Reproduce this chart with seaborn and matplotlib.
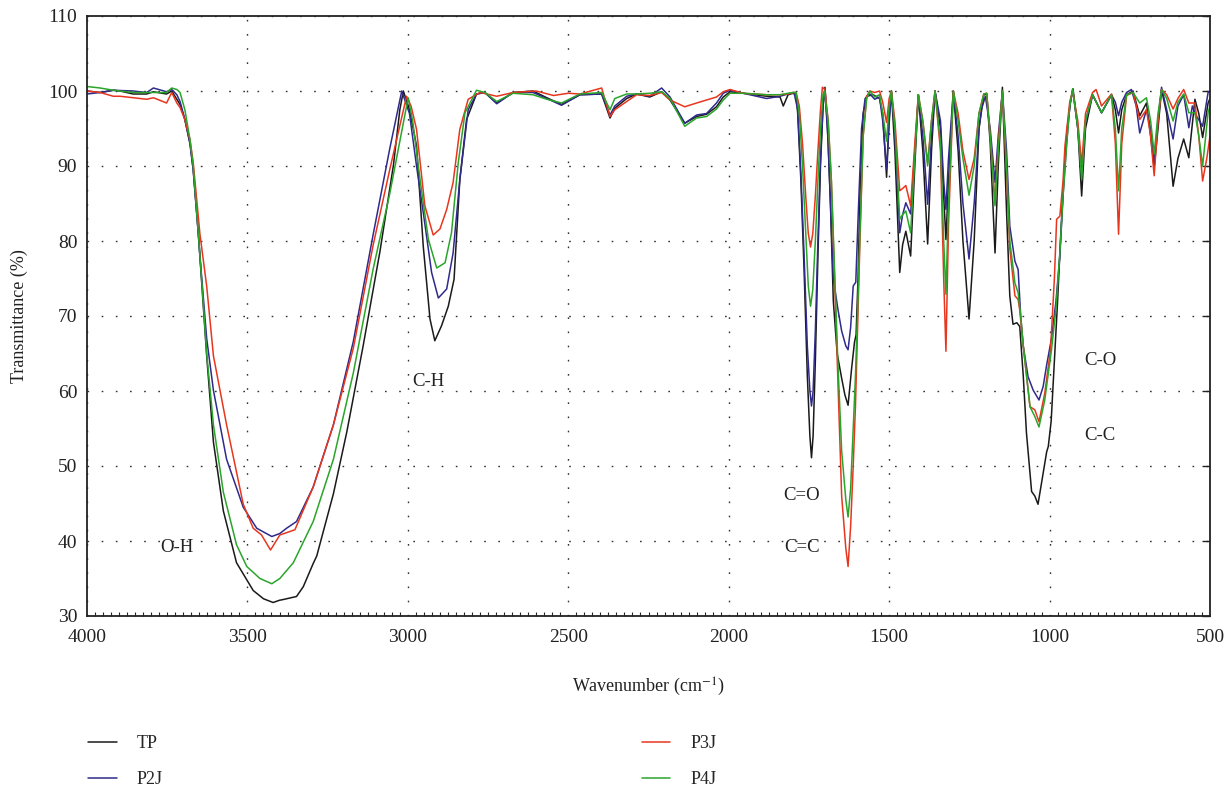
import numpy as np
import pandas as pd
import matplotlib
matplotlib.use("Agg")
import matplotlib.pyplot as plt
from matplotlib.ticker import MultipleLocator
import seaborn as sns

# ---------------- data ----------------
tp_wn = [4000, 3959, 3918, 3897, 3856, 3814, 3793, 3752, 3736, 3720, 3710, 3695, 3679, 3669, 3653, 3638,
         3627, 3606, 3575, 3534, 3482, 3450, 3420, 3400, 3388, 3347, 3326, 3295, 3284, 3232, 3190, 3139,
         3087, 3045, 3025, 3014, 2995, 2973, 2952, 2931, 2916, 2895, 2874, 2856, 2838, 2817, 2786, 2760,
         2723, 2672, 2610, 2567, 2521, 2464, 2396, 2370, 2355, 2318, 2287, 2246, 2209, 2183, 2137, 2100,
         2069, 2038, 2017, 1996, 1955, 1882, 1840, 1830, 1815, 1799, 1790, 1785, 1775, 1765, 1755, 1747,
         1742, 1737, 1730, 1722, 1714, 1706, 1700, 1692, 1683, 1674, 1662, 1648, 1638, 1628, 1617, 1608,
         1603, 1597, 1591, 1581, 1570, 1550, 1530, 1520, 1508, 1500, 1493, 1482, 1467, 1458, 1448, 1433,
         1420, 1409, 1395, 1380, 1368, 1357, 1340, 1330, 1323, 1315, 1300, 1285, 1270, 1251, 1235, 1220,
         1205, 1196, 1185, 1170, 1160, 1147, 1134, 1124, 1114, 1102, 1093, 1082, 1072, 1056, 1046, 1036,
         1020, 1009, 1004, 995, 985, 975, 965, 955, 945, 935, 927, 912, 900, 888, 866, 838, 807, 795, 785,
         775, 760, 740, 719, 698, 685, 674, 662, 651, 635, 615, 600, 582, 566, 547, 535, 523, 506, 500]
tp_T = [100.0, 99.8, 100.1, 100.0, 99.6, 99.6, 99.9, 99.6, 100.0, 98.9, 98.2, 96.2, 93.0, 89.5, 81.0, 71.7,
        64.7, 53.2, 44.0, 37.1, 33.4, 32.3, 31.8, 32.1, 32.2, 32.6, 33.9, 37.0, 38.0, 46.3, 54.6, 66.1,
        78.6, 90.1, 97.5, 100.0, 97.5, 92.7, 79.3, 69.6, 66.7, 68.7, 71.3, 74.9, 88.2, 96.2, 99.6, 99.8,
        98.4, 99.8, 100.0, 99.1, 98.2, 99.5, 99.6, 96.4, 97.7, 99.0, 99.6, 99.2, 99.9, 98.8, 95.7, 96.6,
        96.9, 97.9, 99.2, 99.9, 99.7, 99.3, 99.2, 98.0, 99.5, 99.7, 99.6, 97.0, 88.0, 76.0, 62.0, 54.0,
        51.1, 54.0, 64.0, 78.0, 90.0, 98.0, 100.5, 95.0, 85.0, 72.0, 65.0, 61.7, 59.5, 58.1, 63.0, 66.5,
        67.5, 75.0, 86.0, 97.0, 99.3, 99.5, 99.0, 97.0, 88.5, 96.0, 100.0, 92.0, 75.8, 79.5, 81.3, 78.0,
        90.0, 99.5, 92.0, 79.6, 92.0, 100.0, 95.0, 86.0, 80.2, 88.0, 100.0, 92.0, 80.0, 69.6, 80.0, 95.0,
        99.5, 99.6, 93.0, 78.4, 90.0, 100.5, 83.8, 72.7, 68.9, 69.1, 68.6, 62.0, 54.4, 46.6, 46.0, 44.9,
        49.0, 51.9, 52.6, 56.0, 64.0, 72.0, 81.0, 89.0, 95.0, 98.5, 100.3, 95.0, 86.0, 95.0, 99.5, 97.1,
        99.5, 97.5, 94.4, 97.5, 99.5, 100.0, 96.7, 98.4, 94.0, 89.8, 95.0, 100.2, 97.0, 87.3, 91.0, 93.6,
        91.1, 98.9, 97.0, 93.8, 98.4, 99.0]

p2j_wn = [4000, 3959, 3918, 3856, 3814, 3793, 3752, 3736, 3720, 3710, 3695, 3679, 3669, 3653, 3648, 3627,
          3606, 3565, 3513, 3471, 3424, 3399, 3378, 3347, 3295, 3232, 3170, 3108, 3056, 3019, 2995, 2973,
          2952, 2926, 2905, 2879, 2859, 2838, 2812, 2786, 2760, 2723, 2672, 2610, 2567, 2521, 2464, 2396,
          2370, 2355, 2318, 2287, 2246, 2209, 2183, 2137, 2100, 2069, 2038, 2017, 1996, 1955, 1882, 1840,
          1815, 1799, 1795, 1785, 1775, 1765, 1755, 1747, 1742, 1737, 1730, 1722, 1714, 1706, 1700, 1690,
          1682, 1674, 1660, 1648, 1635, 1628, 1620, 1612, 1604, 1596, 1586, 1575, 1560, 1545, 1530, 1520,
          1508, 1500, 1493, 1482, 1467, 1458, 1448, 1433, 1420, 1409, 1395, 1380, 1368, 1357, 1340, 1330,
          1323, 1315, 1300, 1285, 1270, 1251, 1235, 1220, 1212, 1200, 1185, 1170, 1160, 1147, 1134, 1124,
          1108, 1098, 1090, 1082, 1067, 1051, 1033, 1020, 1009, 994, 980, 968, 958, 947, 937, 928, 912,
          900, 888, 866, 838, 807, 795, 785, 775, 760, 745, 730, 719, 708, 698, 685, 674, 662, 651, 635,
          615, 600, 582, 566, 555, 547, 523, 506, 500]
p2j_T = [99.6, 99.8, 100.1, 100.0, 99.8, 100.4, 99.9, 100.2, 99.5, 98.6, 96.2, 93.0, 89.5, 80.9, 78.0, 67.0,
         60.1, 50.9, 44.5, 41.7, 40.6, 41.0, 41.7, 42.6, 47.2, 55.5, 66.6, 80.9, 92.4, 100.0, 97.0, 90.0,
         83.8, 75.8, 72.4, 73.6, 78.4, 88.2, 97.5, 99.6, 99.8, 98.3, 99.8, 99.8, 99.0, 98.1, 99.5, 99.6,
         96.8, 98.0, 99.3, 99.6, 99.3, 100.4, 99.2, 95.7, 96.8, 97.0, 98.4, 99.7, 100.1, 99.7, 99.0, 99.3,
         99.6, 99.8, 99.5, 97.5, 89.0, 78.0, 66.0, 60.0, 58.0, 60.0, 68.0, 80.0, 91.0, 98.0, 100.3, 93.0,
         84.0, 75.0, 71.0, 68.0, 66.0, 65.5, 68.5, 74.0, 74.5, 84.0, 95.0, 99.0, 99.6, 98.9, 99.2, 96.0,
         89.6, 96.0, 100.0, 94.0, 81.1, 83.5, 85.1, 83.6, 92.0, 99.5, 94.0, 84.9, 94.0, 100.0, 96.0, 88.0,
         84.2, 91.0, 100.0, 94.0, 85.0, 77.6, 85.0, 95.0, 97.6, 99.3, 95.0, 87.8, 94.0, 100.0, 92.0, 82.0,
         77.3, 76.2, 70.0, 66.0, 61.9, 60.1, 58.8, 60.6, 63.5, 67.0, 72.0, 78.0, 86.0, 93.0, 98.0, 100.2, 95.0,
         88.7, 96.0, 99.5, 97.1, 99.5, 98.5, 96.7, 98.5, 99.8, 100.2, 98.0, 94.4, 96.0, 97.5, 95.0, 90.7, 96.0, 100.5, 97.5,
         93.6, 98.0, 99.5, 95.1, 98.0, 97.0, 95.3, 99.8, 100.0]

p3j_wn = [4000, 3959, 3918, 3897, 3856, 3814, 3793, 3752, 3736, 3720, 3710, 3695, 3679, 3669, 3648, 3627,
          3606, 3565, 3513, 3482, 3456, 3428, 3399, 3352, 3295, 3232, 3170, 3108, 3056, 3004, 2990, 2973,
          2947, 2921, 2900, 2879, 2859, 2838, 2812, 2775, 2723, 2672, 2600, 2546, 2500, 2464, 2396, 2370,
          2355, 2318, 2287, 2246, 2209, 2183, 2137, 2100, 2069, 2038, 2017, 1996, 1955, 1882, 1840, 1815,
          1799, 1790, 1780, 1770, 1760, 1752, 1745, 1738, 1730, 1722, 1714, 1708, 1700, 1690, 1680, 1670,
          1660, 1648, 1635, 1628, 1620, 1612, 1605, 1598, 1591, 1581, 1570, 1560, 1545, 1530, 1520, 1508,
          1500, 1493, 1482, 1467, 1458, 1448, 1433, 1420, 1409, 1395, 1380, 1368, 1357, 1340, 1330, 1323,
          1315, 1300, 1285, 1270, 1251, 1235, 1220, 1205, 1196, 1185, 1170, 1160, 1147, 1134, 1124, 1108,
          1098, 1093, 1082, 1061, 1046, 1033, 1015, 997, 985, 978, 968, 958, 952, 937, 928, 912, 900, 888,
          866, 855, 838, 807, 795, 785, 775, 760, 740, 719, 698, 685, 674, 662, 651, 635, 615, 600, 582,
          566, 547, 535, 523, 510, 500]
p3j_T = [100.0, 99.8, 99.3, 99.3, 99.1, 98.9, 99.1, 98.4, 99.8, 98.4, 97.8, 96.2, 93.5, 90.5, 80.9, 74.0,
         64.7, 55.5, 44.9, 41.7, 40.8, 38.8, 40.8, 41.5, 47.2, 55.5, 65.7, 79.5, 89.6, 99.3, 98.0, 94.9,
         84.7, 80.8, 81.6, 84.2, 87.8, 94.9, 98.9, 99.8, 99.3, 99.8, 100.0, 99.4, 99.7, 99.6, 100.4, 96.6,
         97.5, 98.6, 99.5, 99.4, 99.8, 98.8, 97.9, 98.4, 98.8, 99.2, 99.9, 100.2, 99.7, 99.5, 99.5, 99.6,
         99.8, 99.8, 98.0, 93.0, 86.0, 81.0, 79.2, 81.0, 86.0, 92.0, 97.5, 100.5, 100.2, 96.0, 88.0, 75.0,
         62.0, 46.0, 39.0, 36.6, 42.0, 50.0, 58.0, 69.0, 80.0, 94.0, 99.3, 100.0, 99.8, 100.0, 98.5, 95.8,
         99.0, 100.0, 96.0, 86.7, 87.0, 87.4, 84.7, 93.0, 99.5, 96.0, 90.4, 96.0, 100.0, 92.0, 75.0, 65.3,
         82.0, 100.0, 97.0, 92.0, 88.2, 91.0, 97.0, 99.6, 99.7, 94.0, 85.0, 93.0, 100.0, 89.0, 79.0, 72.7,
         72.2, 70.8, 66.0, 57.9, 57.5, 55.9, 59.7, 65.5, 75.0, 82.9, 83.3, 88.0, 92.7, 98.6, 100.0, 96.0, 90.2, 97.0,
         99.8, 100.2, 98.0, 99.6, 93.0, 80.9, 93.0, 99.4, 99.8, 96.2, 97.5, 94.0, 88.7, 96.0, 100.2, 99.5, 97.6, 99.0, 100.2,
         98.4, 98.4, 94.0, 88.0, 91.0, 94.0]

p4j_wn = [4000, 3959, 3918, 3856, 3814, 3752, 3736, 3720, 3710, 3695, 3679, 3669, 3653, 3638, 3627, 3606,
          3575, 3534, 3502, 3461, 3424, 3399, 3357, 3295, 3232, 3170, 3108, 3056, 3025, 2999, 2985, 2962,
          2936, 2910, 2884, 2864, 2843, 2822, 2786, 2760, 2723, 2672, 2610, 2567, 2521, 2464, 2396, 2370,
          2355, 2318, 2287, 2246, 2209, 2183, 2137, 2100, 2069, 2038, 2017, 1996, 1955, 1882, 1840, 1815,
          1799, 1790, 1780, 1770, 1760, 1752, 1745, 1738, 1730, 1722, 1714, 1706, 1702, 1690, 1680, 1670,
          1660, 1648, 1635, 1628, 1620, 1612, 1605, 1598, 1591, 1581, 1570, 1560, 1545, 1530, 1520, 1508,
          1500, 1493, 1482, 1467, 1458, 1448, 1433, 1420, 1409, 1395, 1380, 1368, 1357, 1340, 1330, 1323,
          1315, 1300, 1285, 1270, 1251, 1235, 1220, 1205, 1196, 1185, 1170, 1160, 1147, 1134, 1124, 1108,
          1098, 1090, 1082, 1061, 1046, 1033, 1015, 994, 980, 968, 958, 947, 937, 928, 912, 900, 888, 866,
          838, 807, 795, 785, 775, 760, 740, 719, 698, 685, 674, 662, 651, 635, 615, 600, 582, 566, 547,
          535, 523, 506, 500]
p4j_T = [100.6, 100.4, 100.1, 99.8, 99.8, 99.8, 100.4, 100.2, 99.8, 97.5, 93.5, 90.0, 81.0, 72.0, 65.0, 55.5,
         46.5, 39.5, 36.6, 35.0, 34.3, 35.0, 37.1, 42.6, 50.9, 62.4, 76.3, 86.4, 93.3, 99.1, 96.0, 88.2,
         80.2, 76.4, 77.1, 81.1, 90.4, 97.1, 100.1, 99.8, 98.6, 99.7, 99.5, 98.9, 98.4, 99.6, 99.8, 97.5,
         99.0, 99.6, 99.6, 99.7, 99.9, 99.0, 95.3, 96.4, 96.6, 97.6, 98.8, 99.7, 99.7, 99.5, 99.5, 99.7,
         99.8, 99.8, 97.0, 90.0, 81.0, 74.0, 71.3, 73.5, 80.0, 88.0, 95.0, 99.5, 100.0, 96.0, 88.0, 76.0,
         64.0, 52.0, 45.5, 43.2, 47.0, 55.0, 62.0, 71.0, 81.0, 94.0, 99.0, 100.0, 99.2, 99.5, 97.0, 93.3,
         98.0, 100.0, 95.0, 82.9, 83.5, 84.0, 81.1, 91.0, 99.5, 96.0, 90.0, 96.0, 100.0, 93.0, 80.0, 72.9,
         85.0, 100.0, 96.0, 91.0, 86.1, 90.0, 97.0, 99.6, 99.7, 94.0, 84.7, 92.0, 100.0, 90.0, 80.0, 74.4,
         73.1, 70.0, 66.0, 57.9, 56.6, 55.2, 58.8, 65.5, 71.0, 78.4, 86.0, 92.7, 98.0, 100.3, 95.0, 88.2, 96.0, 99.5,
         97.1, 99.5, 95.0, 86.7, 95.0, 99.5, 99.8, 98.4, 99.1, 96.0, 91.6, 97.0, 100.2, 99.0, 96.0, 98.5, 99.6, 97.1, 97.1,
         94.0, 90.0, 97.1, 98.0]

series_names = ["TP", "P2J", "P3J", "P4J"]
series_colors = ["#1a1a1a", "#2f2a8c", "#e8361e", "#2aa52a"]

x_ticks = [4000, 3500, 3000, 2500, 2000, 1500, 1000, 500]
y_ticks = [30, 40, 50, 60, 70, 80, 90, 100, 110]

band_labels = ["O-H", "C-H", "C=O", "C=C", "C-O", "C-C"]
band_wn = [3720, 2937, 1772, 1772, 843, 843]
band_T = [39.2, 61.2, 46.1, 39.1, 64.1, 54.0]

# ---------------- build table ----------------
frames = []
for name, wn, T in zip(series_names, [tp_wn, p2j_wn, p3j_wn, p4j_wn], [tp_T, p2j_T, p3j_T, p4j_T]):
    frames.append(pd.DataFrame({"Wavenumber": wn, "Transmittance": T, "Sample": name}))
df = pd.concat(frames, ignore_index=True)

# ---------------- style ----------------
sns.set_theme(style="white")
plt.rcParams["font.family"] = ["Liberation Serif", "DejaVu Serif"]
plt.rcParams["mathtext.fontset"] = "stix"

fig = plt.figure(figsize=(12.28, 7.90), dpi=100)
ax = fig.add_axes([87 / 1228, 1 - 616 / 790, (1210 - 87) / 1228, (616 - 16) / 790])

sns.lineplot(data=df, x="Wavenumber", y="Transmittance", hue="Sample",
             palette=dict(zip(series_names, series_colors)), hue_order=series_names,
             estimator=None, sort=False, linewidth=1.1, ax=ax, legend=False)

ax.set_xlim(4000, 500)
ax.set_ylim(30, 110)
ax.set_xticks(x_ticks)
ax.set_yticks(y_ticks)
ax.xaxis.set_minor_locator(MultipleLocator(25))
ax.tick_params(axis="both", which="major", direction="in", length=6, width=1,
               labelsize=14, colors="#222222")
ax.tick_params(axis="x", which="major", pad=9)
ax.tick_params(axis="y", which="major", pad=7)
ax.tick_params(axis="x", which="minor", direction="in", length=3, width=0.8, bottom=True)
ax.tick_params(axis="y", right=True)
for s in ax.spines.values():
    s.set_color("#222222")
    s.set_linewidth(1.3)
ax.grid(True, which="major", linestyle=(0, (1.2, 9)), color="#333333", linewidth=1.0)
ax.set_xlabel("Wavenumber (cm$^{-1}$)", fontsize=13, labelpad=22, color="#222222")
ax.set_ylabel("Transmittance (%)", fontsize=13, labelpad=14, color="#222222")

for lab, w, t in zip(band_labels, band_wn, band_T):
    ax.text(w, t, lab, fontsize=13.5, ha="center", va="center", color="#222222")

handles = [plt.Line2D([], [], color=c, linewidth=1.1) for c in series_colors]
fig.legend(handles, series_names, loc="upper left", bbox_to_anchor=(72 / 1228, 1 - 719 / 790),
           ncol=2, frameon=False, fontsize=13, handlelength=1.6, handletextpad=1.1,
           labelspacing=1.05, columnspacing=26.5)

fig.savefig("out.png", dpi=100, facecolor="white")
